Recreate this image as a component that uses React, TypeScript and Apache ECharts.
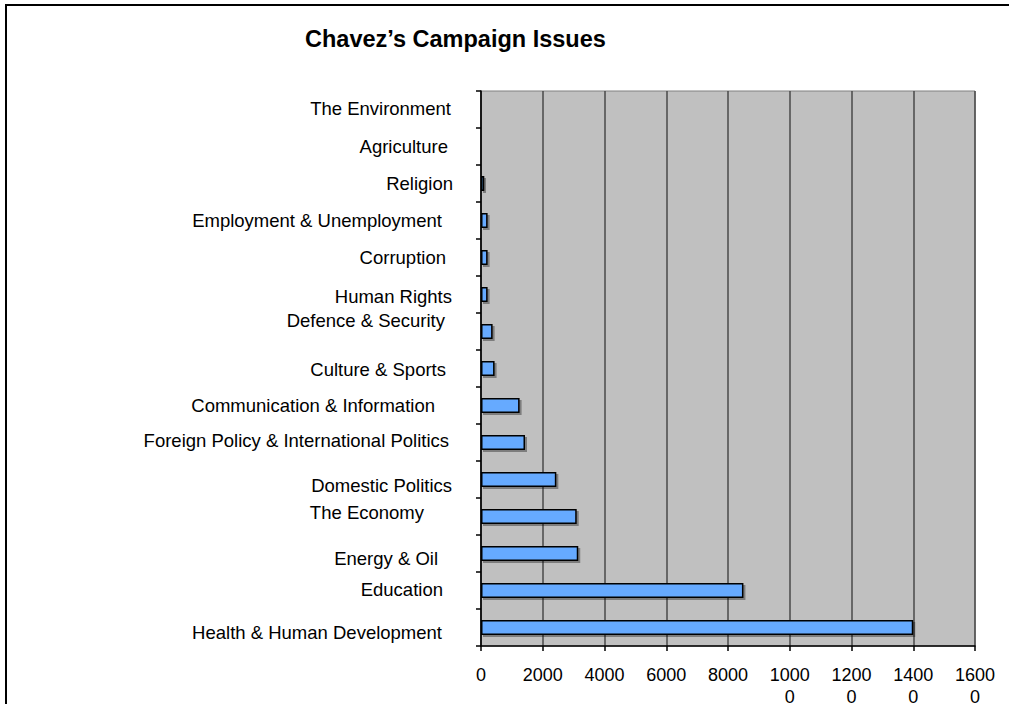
import React, { useEffect, useRef } from "react";
import * as echarts from "echarts";

// Categories listed bottom-to-top (ECharts category yAxis starts at the bottom)
const categories: string[] = [
  "Health & Human Development",
  "Education",
  "Energy & Oil",
  "The Economy",
  "Domestic Politics",
  "Foreign Policy & International Politics",
  "Communication & Information",
  "Culture & Sports",
  "Defence & Security",
  "Human Rights",
  "Corruption",
  "Employment & Unemployment",
  "Religion",
  "Agriculture",
  "The Environment",
];

const values: number[] = [
  14000, 8500, 3150, 3100, 2440, 1425, 1250, 440, 376, 214, 214, 214, 107, 0, 0,
];

const valueTicks: number[] = [0, 2000, 4000, 6000, 8000, 10000, 12000, 14000, 16000];

const titleText = "Chavez\u2019s Campaign Issues";

// label nudges (style only): extra right gap and vertical shift in px, same order as categories
const labelExtraGap: number[] = [11, 10, 15, 29, 1, 4, 18, 7, 8, 1, 7, 11, 0, 5, 2];
const labelShiftY: number[] = [4.5, -1.5, 4.5, -4.5, 5.5, -2.5, -0.5, 0.5, -11.5, 1.5, -0.5, -0.5, -0.5, -0.5, -1.5];

const FONT = '"Liberation Sans", Arial, sans-serif';

export default function App() {
  const ref = useRef<HTMLDivElement>(null);

  useEffect(() => {
    if (!ref.current) return;
    const chart = echarts.init(ref.current, null, { renderer: "svg" });

    const rich: Record<string, any> = {};
    categories.forEach((_, i) => {
      const dy = labelShiftY[i];
      const top = dy > 0 ? dy * 2 : 0;
      const bottom = dy < 0 ? -dy * 2 : 0;
      rich["l" + i] = {
        fontFamily: FONT,
        fontSize: 18.5,
        color: "#000",
        padding: [top, labelExtraGap[i], bottom, 0],
      };
    });

    chart.setOption({
      animation: false,
      backgroundColor: "#ffffff",
      title: {
        text: titleText,
        left: 300,
        top: 22,
        textStyle: {
          fontFamily: FONT,
          fontSize: 23.5,
          fontWeight: "bold",
          color: "#000",
        },
      },
      graphic: [
        {
          type: "rect",
          shape: { x: 6, y: 5, width: 1100, height: 800 },
          style: { fill: "none", stroke: "#000", lineWidth: 2 },
          z: 100,
        },
      ],
      grid: {
        left: 481,
        top: 91,
        right: 34,
        bottom: 58,
        show: true,
        backgroundColor: "#c0c0c0",
        borderColor: "#808080",
        borderWidth: 1,
        containLabel: false,
        outerBoundsMode: "none",
      },
      xAxis: {
        type: "value",
        min: valueTicks[0],
        max: valueTicks[valueTicks.length - 1],
        interval: valueTicks[1] - valueTicks[0],
        axisLine: { show: true, onZero: false, lineStyle: { color: "#000", width: 1.5 } },
        axisTick: { show: true, inside: false, length: 5, lineStyle: { color: "#000", width: 1.5 } },
        splitLine: { show: true, lineStyle: { color: "#4a4a4a", width: 1.5 } },
        axisLabel: {
          fontFamily: FONT,
          fontSize: 18,
          color: "#000",
          margin: 18,
          lineHeight: 22,
          hideOverlap: false,
          formatter: (v: number) => {
            const s = String(v);
            return s.length > 4 ? s.slice(0, 4) + "\n" + s.slice(4) : s;
          },
        },
      },
      yAxis: {
        type: "category",
        data: categories,
        axisLine: { show: true, lineStyle: { color: "#000", width: 1.5 } },
        axisTick: { show: true, inside: false, length: 5, alignWithLabel: false, lineStyle: { color: "#000", width: 1.5 } },
        splitLine: { show: false },
        axisLabel: {
          fontFamily: FONT,
          fontSize: 18.5,
          color: "#000",
          margin: 28,
          interval: 0,
          align: "right",
          verticalAlign: "middle",
          formatter: (value: string, index: number) => "{l" + index + "|" + value + "}",
          rich,
        },
      },
      series: [
        {
          type: "bar",
          data: values,
          barWidth: 15,
          itemStyle: {
            color: "#66aaff",
            borderColor: "#000",
            borderWidth: 1.5,
            shadowColor: "rgba(0,0,0,0.35)",
            shadowOffsetX: 2,
            shadowOffsetY: 2,
            shadowBlur: 0,
          },
          emphasis: { disabled: true },
        },
      ],
    });

    return () => chart.dispose();
  }, []);

  return (
    <div
      ref={ref}
      style={{ position: "absolute", left: 0, top: 0, width: 1009, height: 704, overflow: "hidden" }}
    />
  );
}
